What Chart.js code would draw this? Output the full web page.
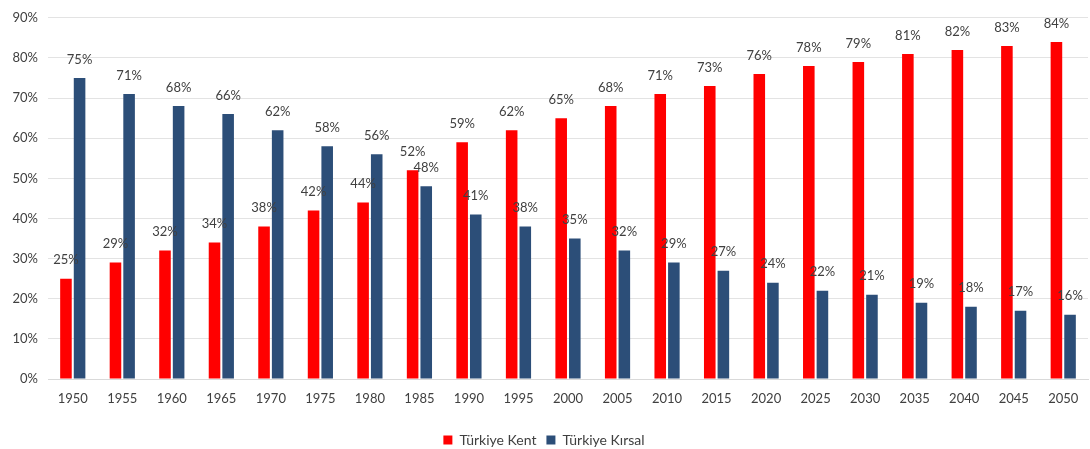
<!DOCTYPE html>
<html>
<head>
<meta charset="utf-8">
<script src="https://cdn.jsdelivr.net/npm/chart.js@4/dist/chart.umd.min.js"></script>
<style>
  html, body { margin: 0; padding: 0; background: #ffffff; }
  #wrap { width: 1090px; height: 449px; }
</style>
</head>
<body>
<div id="wrap"><canvas id="myChart" width="1090" height="449"></canvas></div>
<script>
let years = ["1950", "1955", "1960", "1965", "1970", "1975", "1980", "1985", "1990", "1995", "2000",
  "2005", "2010", "2015", "2020", "2025", "2030", "2035", "2040", "2045", "2050"];
let kentValues = [25, 29, 32, 34, 38, 42, 44, 52, 59, 62, 65, 68, 71, 73, 76, 78, 79, 81, 82, 83, 84];
let kirsalValues = [75, 71, 68, 66, 62, 58, 56, 48, 41, 38, 35, 32, 29, 27, 24, 22, 21, 19, 18, 17, 16];
let yTicks = [0, 10, 20, 30, 40, 50, 60, 70, 80, 90];

const fontName = "Lato, 'Open Sans', sans-serif";

//--VALUE LABELS ABOVE BARS------------------------------------------------------------------------------
const barLabels = {
  id: "barLabels",
  afterDatasetsDraw(chart) {
    const ctx = chart.ctx;
    ctx.save();
    ctx.font = "13px " + fontName;
    ctx.fillStyle = "#404040";
    ctx.textAlign = "center";
    ctx.textBaseline = "bottom";
    chart.data.datasets.forEach((ds, i) => {
      chart.getDatasetMeta(i).data.forEach((bar, j) => {
        ctx.fillText(ds.data[j] + "%", bar.x, bar.y - 12);
      });
    });
    ctx.restore();
  },
};

const ctx = document.getElementById("myChart").getContext("2d");
const myChart = new Chart(ctx, {
  type: "bar",
  data: {
    labels: years,
    datasets: [
      {
        label: "Türkiye Kent",
        data: kentValues,
        backgroundColor: "#ff0000",
        categoryPercentage: 0.55,
        barPercentage: 0.85,
      },
      {
        label: "Türkiye Kırsal",
        data: kirsalValues,
        backgroundColor: "#2c4e78",
        categoryPercentage: 0.55,
        barPercentage: 0.85,
      },
    ],
  },
  options: {
    responsive: false,
    animation: false,
    layout: { padding: { top: 16, right: 2, left: 0, bottom: -8 } },
    plugins: {
      tooltip: { enabled: false },
      legend: {
        position: "bottom",
        labels: {
          boxWidth: 9,
          boxHeight: 9,
          padding: 10,
          color: "#404040",
          font: { family: fontName, size: 14 },
        },
      },
    },
    scales: {
      x: {
        grid: { display: false },
        border: { color: "#d9d9d9" },
        ticks: { color: "#404040", font: { family: fontName, size: 13 }, padding: 4, maxRotation: 0 },
        afterFit: (scale) => { scale.height = 44; },
      },
      y: {
        min: 0,
        max: 90,
        afterBuildTicks: (scale) => { scale.ticks = yTicks.map((v) => ({ value: v })); },
        grid: { color: "#e3e3e3", drawTicks: false },
        border: { display: false },
        ticks: {
          color: "#404040",
          font: { family: fontName, size: 13 },
          padding: 10,
          callback: (v) => v + "%",
        },
        afterFit: (scale) => { scale.width = 48; },
      },
    },
  },
  plugins: [barLabels],
});
</script>
</body>
</html>
